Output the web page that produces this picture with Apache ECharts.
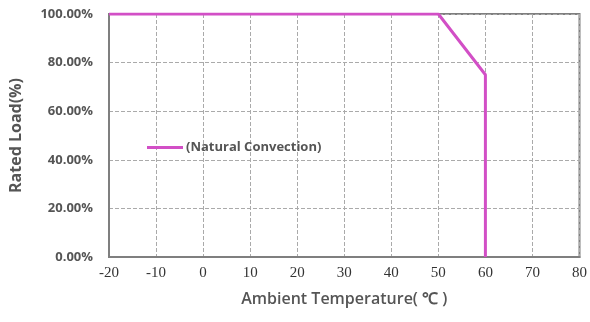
<!DOCTYPE html>
<html>
<head>
<meta charset="utf-8">
<script src="https://cdn.jsdelivr.net/npm/echarts@6/dist/echarts.min.js"></script>
<style>
  html, body { margin: 0; padding: 0; background: #fff; }
  #chart { width: 590px; height: 322px; }
</style>
</head>
<body>
<div id="chart"></div>
<script>
    // derating curve
    var temps = [-20, 50, 60, 60];
    var loads = [100, 100, 75, 0];
    var seriesName = '(Natural Convection)';

    var points = [];
    for (var i = 0; i < temps.length; i++) {
        points.push([temps[i], loads[i]]);
    }

    var myChart = echarts.init(document.getElementById('chart'));

    var option = {
        animation: false,
        backgroundColor: '#fff',
        grid: { left: 107, right: 8, top: 14, bottom: 65, show: true, borderColor: '#7f7f7f', borderWidth: 2 },
        legend: {
            left: 142, top: 136,
            icon: 'rect', itemWidth: 36, itemHeight: 3, itemGap: 2, itemStyle: { borderWidth: 0 },
            textStyle: { color: '#555', fontFamily: 'Open Sans', fontWeight: 700, fontSize: 13, padding: [0, 0, 0, -2] },
            data: [seriesName]
        },
        xAxis: {
            type: 'value', min: -20, max: 80, interval: 10,
            name: 'Ambient Temperature( ℃ )', nameLocation: 'middle', nameGap: 34,
            nameTextStyle: { color: '#555', fontFamily: 'Open Sans', fontWeight: 600, fontSize: 16 },
            axisLine: { show: true, onZero: false, lineStyle: { color: '#7f7f7f', width: 2 } },
            axisTick: { show: false },
            axisLabel: { color: '#333', fontFamily: 'Liberation Serif', fontSize: 15, margin: 9 },
            splitLine: { show: true, lineStyle: { color: '#aaa', type: 'dashed', width: 1 } }
        },
        yAxis: {
            type: 'value', min: 0, max: 100, interval: 20,
            name: 'Rated Load(%)', nameLocation: 'middle', nameGap: 85,
            nameTextStyle: { color: '#555', fontFamily: 'Open Sans', fontWeight: 700, fontSize: 16 },
            axisLine: { show: true, onZero: false, lineStyle: { color: '#7f7f7f', width: 2 } },
            axisTick: { show: false },
            axisLabel: {
                color: '#555', fontFamily: 'Open Sans', fontWeight: 700, fontSize: 13, margin: 16,
                formatter: function (v) { return v.toFixed(2) + '%'; }
            },
            splitLine: { show: true, lineStyle: { color: '#aaa', type: 'dashed', width: 1 } }
        },
        series: [{
            name: seriesName,
            type: 'line',
            data: points,
            showSymbol: false,
            symbol: 'none',
            color: '#d24fc6',
            lineStyle: { color: '#d24fc6', width: 3 }
        }]
    };

    myChart.setOption(option);
</script>
</body>
</html>
